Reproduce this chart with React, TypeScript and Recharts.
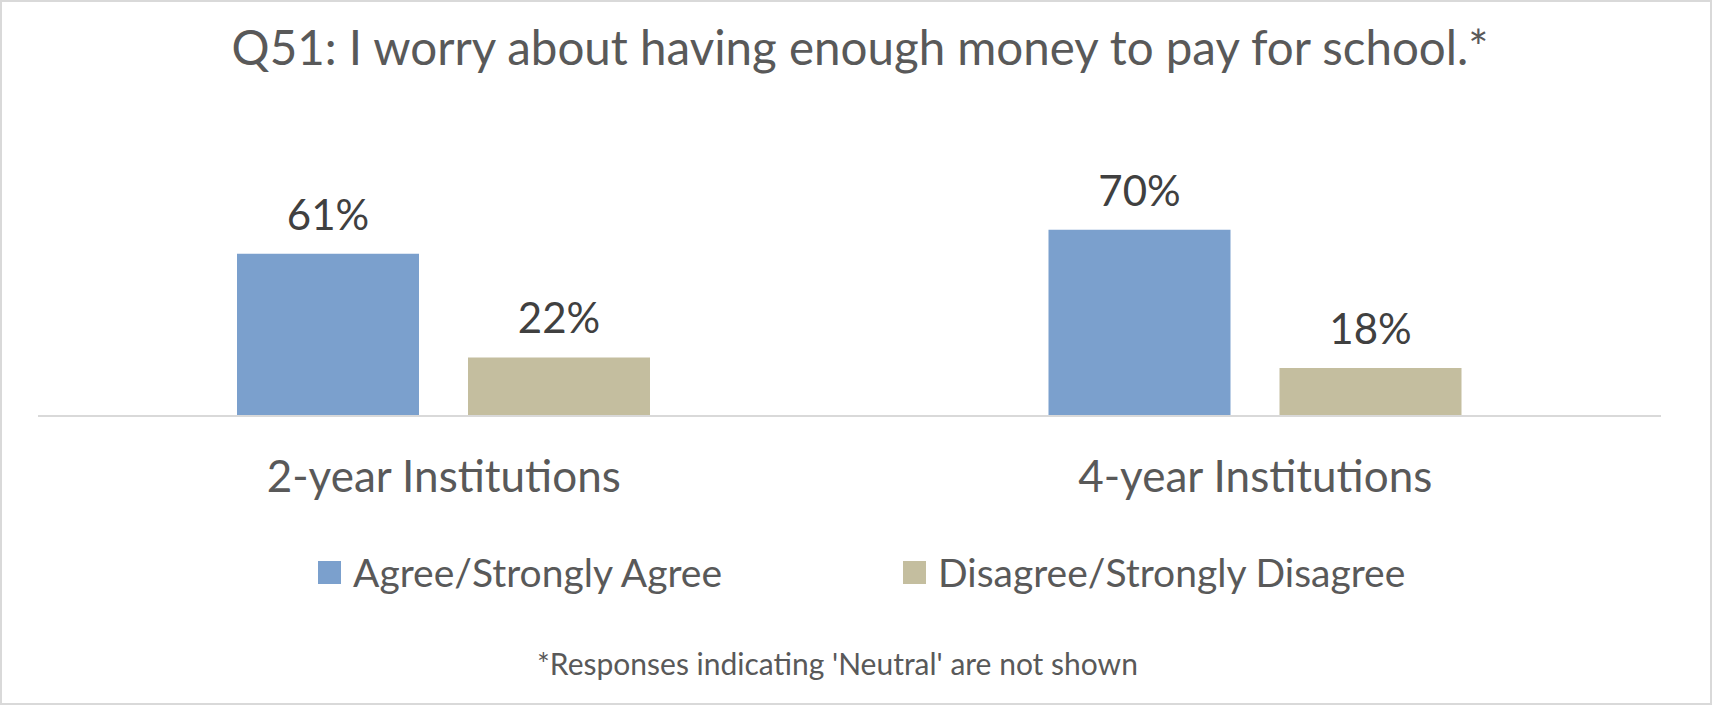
import React from 'react';
import { BarChart, Bar, XAxis, YAxis, Legend, LabelList } from 'recharts';

const categories = ['2-year Institutions', '4-year Institutions'];
const agreeValues = [61, 70];
const disagreeValues = [22, 18];
const seriesNames = ['Agree/Strongly Agree', 'Disagree/Strongly Disagree'];
const seriesColors = ['#7BA0CD', '#C4BE9F'];
const titleText = 'Q51: I worry about having enough money to pay for school.*';
const footnoteText = "*Responses indicating 'Neutral' are not shown";

const data = categories.map((c, i) => ({
  category: c,
  agree: agreeValues[i],
  disagree: disagreeValues[i],
}));

const FONT = 'Lato, "Open Sans", sans-serif';

const renderLegend = (props: any) => {
  const items = props.payload || [];
  return (
    <div style={{ position: 'relative', height: 46, fontFamily: FONT }}>
      {items.map((it: any, i: number) => (
        <div
          key={i}
          style={{
            position: 'absolute',
            left: i * 585,
            top: 0,
            height: 46,
            display: 'flex',
            alignItems: 'center',
            whiteSpace: 'nowrap',
          }}
        >
          <span style={{ width: 23, height: 23, background: it.color, display: 'inline-block', marginRight: 12 }} />
          <span style={{ fontSize: 39, color: '#595959', lineHeight: '46px' }}>{it.value}</span>
        </div>
      ))}
    </div>
  );
};

export default function App() {
  return (
    <div style={{ position: 'absolute', left: 0, top: 0, width: 1712, height: 707, background: '#fff', fontFamily: FONT }}>
      <div
        style={{
          position: 'absolute',
          left: 0,
          top: 0,
          width: 1708,
          height: 701,
          border: '2px solid #d9d9d9',
        }}
      />
      <div style={{ position: 'absolute', left: 0, top: 0 }}>
        <BarChart
          width={1712}
          height={707}
          data={data}
          margin={{ top: 150, right: 51, bottom: 211, left: 38 }}
          barGap={49}
        >
          <XAxis
            dataKey="category"
            height={80}
            axisLine={{ stroke: '#d9d9d9', strokeWidth: 2 }}
            tickLine={false}
            tickMargin={39}
            tick={{ fill: '#595959', fontSize: 44, fontFamily: FONT }}
          />
          <YAxis hide domain={[0, 100]} />
          <Legend
            verticalAlign="middle"
            align="center"
            layout="horizontal"
            content={renderLegend}
            wrapperStyle={{ top: 549, left: 318, width: 1200, height: 46 }}
          />
          <Bar dataKey="agree" name={seriesNames[0]} fill={seriesColors[0]} barSize={182} isAnimationActive={false}>
            <LabelList
              dataKey="agree"
              position="top"
              offset={24}
              formatter={(v: any) => `${v}%`}
              style={{ fill: '#404040', fontSize: 42, fontFamily: FONT }}
            />
          </Bar>
          <Bar dataKey="disagree" name={seriesNames[1]} fill={seriesColors[1]} barSize={182} isAnimationActive={false}>
            <LabelList
              dataKey="disagree"
              position="top"
              offset={24}
              formatter={(v: any) => `${v}%`}
              style={{ fill: '#404040', fontSize: 42, fontFamily: FONT }}
            />
          </Bar>
        </BarChart>
      </div>
      <svg width={1712} height={707} style={{ position: 'absolute', left: 0, top: 0, pointerEvents: 'none' }}>
        <text x={860} y={65} textAnchor="middle" fill="#595959" fontSize={47.5} fontFamily={FONT}>
          {titleText}
        </text>
        <text x={837.5} y={675} textAnchor="middle" fill="#595959" fontSize={30} fontFamily={FONT}>
          {footnoteText}
        </text>
      </svg>
    </div>
  );
}
